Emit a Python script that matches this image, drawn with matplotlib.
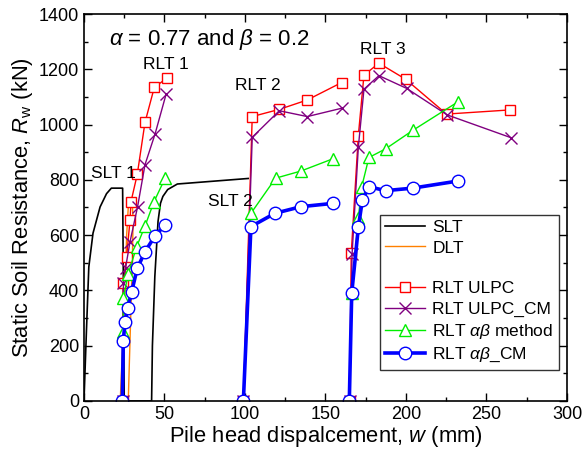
import matplotlib
matplotlib.use("Agg")
import matplotlib.pyplot as plt
from matplotlib.ticker import MultipleLocator

plt.rcParams["font.family"] = ["Liberation Sans", "DejaVu Sans"]
plt.rcParams["mathtext.fontset"] = "custom"
plt.rcParams["mathtext.rm"] = "Liberation Sans"
plt.rcParams["mathtext.it"] = "Liberation Sans:italic"

# static load test (SLT 1 + SLT 2)
slt_w = [0, 1.5, 3, 5.6, 10, 14, 17, 24, 24.5, 25, 42, 42.5, 44, 46, 47.5, 49, 52, 58, 80, 102]
slt_r = [0, 250, 485, 607, 702, 750, 770, 770, 400, 0, 0, 200, 450, 650, 715, 740, 765, 785, 795, 805]

# dynamic load test
dlt_w = [22.5, 24, 25.5, 26.5, 27.5, 28.6, 30, 30.5, 30, 29, 28, 27.5]
dlt_r = [0, 200, 400, 600, 700, 731, 720, 650, 500, 300, 100, 0]

# RLT ULPC
ulpc_w = [24, 24.4, 26.5, 28.6, 29.2, 33.1, 37.9, 43.7, 51.3, None,
          99, 104.5, 121.3, 138.7, 160, None,
          165, 166, 170.4, 173.9, 183.2, 199.8, 225.2, 264.6]
ulpc_r = [0, 427, 522, 655, 721, 820, 1008, 1135, 1167, None,
          0, 1029, 1055, 1089, 1152, None,
          0, 534, 960, 1179, 1222, 1164, 1038, 1053]

# RLT ULPC_CM
ulpccm_w = [24, 24.5, 25.8, 28.6, 33.3, 37.9, 44.1, 51, None,
            99, 104.5, 121.3, 138.7, 160, None,
            165, 166.5, 170.4, 173.9, 183.2, 200.4, 225.6, 265]
ulpccm_r = [0, 427, 481, 576, 703, 855, 965, 1110, None,
            0, 954, 1050, 1029, 1059, None,
            0, 530, 918, 1128, 1177, 1131, 1035, 953]

# RLT alpha-beta method
ab_w = [24, 24.4, 24.4, 27.5, 32.7, 37.9, 43.5, 50.3, None,
        99, 103.7, 119, 134.8, 154.5, None,
        165, 166.3, 170.4, 172.5, 177, 187.3, 204.5, 232.5]
ab_r = [0, 251, 372, 460, 558, 633, 721, 805, None,
        0, 679, 806, 832, 876, None,
        0, 390, 661, 775, 881, 912, 980, 1083]

# RLT alpha-beta CM
abcm_w = [23.8, 24.4, 25.5, 27.1, 29.6, 33.1, 37.9, 44.1, 50.3, None,
          99, 103.7, 118.6, 134.8, 154.8, None,
          164.8, 166.3, 170.4, 172.9, 177, 187.4, 204.1, 232.5]
abcm_r = [0, 217, 287, 335, 395, 480, 540, 597, 637, None,
          0, 631, 679, 703, 715, None,
          0, 390, 628, 727, 775, 761, 770, 796]

fig = plt.figure(figsize=(5.82, 4.58), dpi=100)
ax = fig.add_axes([0.1443, 0.1245, 0.8299, 0.8449])

ax.plot(slt_w, slt_r, color="black", lw=1.2, label="SLT")
ax.plot(dlt_w, dlt_r, color="#ff8000", lw=1.0, label="DLT")
ax.plot([], [], color="none", label=" ")
ax.plot(ulpc_w, ulpc_r, color="red", lw=1.0, marker="s", ms=7.5,
        mfc="white", mec="red", mew=1.0, label="RLT ULPC")
ax.plot(ulpccm_w, ulpccm_r, color="#800080", lw=1.0, marker="x", ms=8.5,
        mew=1.0, label="RLT ULPC_CM")
ax.plot(ab_w, ab_r, color="#00ee00", lw=1.0, marker="^", ms=9,
        mfc="white", mec="#00ee00", mew=1.0, label=r"RLT $\alpha\beta$ method")
ax.plot(abcm_w, abcm_r, color="blue", lw=2.6, marker="o", ms=9,
        mfc="white", mec="blue", mew=1.0, label=r"RLT $\alpha\beta$_CM")

ax.set_xlim(0, 300)
ax.set_ylim(0, 1400)
ax.xaxis.set_major_locator(MultipleLocator(50))
ax.xaxis.set_minor_locator(MultipleLocator(25))
ax.yaxis.set_major_locator(MultipleLocator(200))
ax.yaxis.set_minor_locator(MultipleLocator(100))
ax.tick_params(which="both", direction="in", top=True, right=True, labelsize=13)
ax.tick_params(which="major", length=6, width=1)
ax.tick_params(which="minor", length=3, width=1)
for s in ax.spines.values():
    s.set_linewidth(1.2)

ax.set_xlabel(r"Pile head dispalcement, $w$ (mm)", fontsize=15.8, labelpad=1)
ax.set_ylabel(r"Static Soil Resistance, $R_\mathrm{w}$ (kN)", fontsize=15.8, labelpad=3)

ax.text(77.6, 1306, r"$\alpha$ = 0.77 and $\beta$ = 0.2", fontsize=16, ha="center", va="center")
ax.text(51, 1218, "RLT 1", fontsize=12.5, ha="center", va="center")
ax.text(108, 1140, "RLT 2", fontsize=12.5, ha="center", va="center")
ax.text(185.7, 1273, "RLT 3", fontsize=12.5, ha="center", va="center")
ax.text(18, 822, "SLT 1", fontsize=12.5, ha="center", va="center")
ax.text(90.7, 720, "SLT 2", fontsize=12.5, ha="center", va="center")

leg = ax.legend(loc="upper left", bbox_to_anchor=(0.613, 0.481), borderaxespad=0,
                fontsize=12.5, frameon=True, fancybox=False, edgecolor="black",
                handlelength=2.3, labelspacing=0.3, handletextpad=0.4,
                borderpad=0.3)
leg.get_frame().set_linewidth(1.0)

fig.savefig("out.png", dpi=100)
